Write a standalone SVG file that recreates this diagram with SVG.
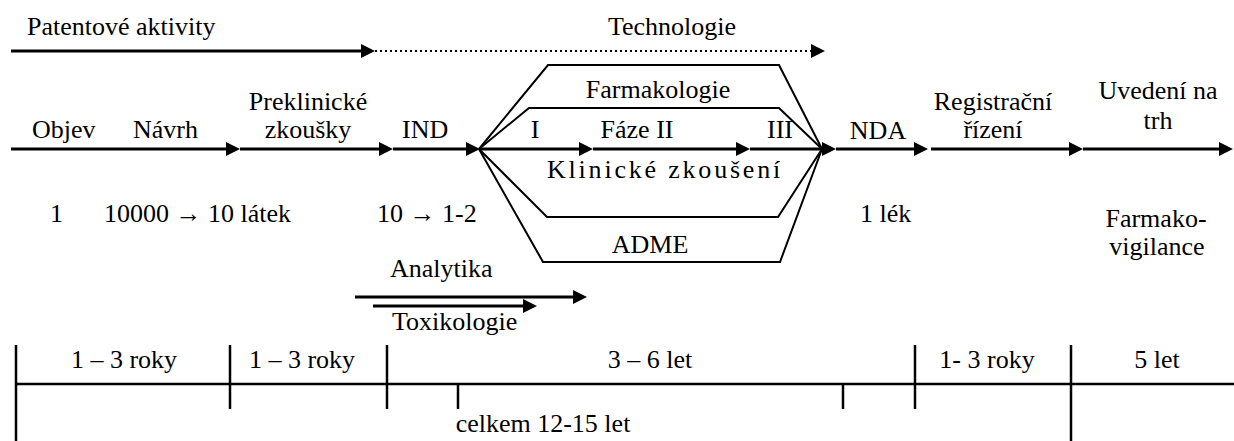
<svg xmlns="http://www.w3.org/2000/svg" width="1234" height="441" viewBox="0 0 1234 441">
<style>
svg{background:#fff}
.t{font-family:'Liberation Serif',serif;font-size:26px;fill:#000}
.m{text-anchor:middle}
.ax{stroke:#000;stroke-width:3;fill:none}
.th{stroke:#000;stroke-width:2;fill:none;stroke-linejoin:miter}
.dot{stroke:#000;stroke-width:2;stroke-dasharray:2 3;fill:none}
.tb{stroke:#000;stroke-width:2.5;fill:none}
</style>
<defs>
<marker id="ah" markerUnits="userSpaceOnUse" markerWidth="14" markerHeight="14" refX="4" refY="7" orient="auto" overflow="visible">
<path d="M0,0 L14,7 L0,14 Z" fill="#000"/>
</marker>
</defs>
<rect width="1234" height="441" fill="#fff"/>
<g id="connectors">
<line class="ax" x1="11" y1="51" x2="365" y2="51" marker-end="url(#ah)"/>
<line class="dot" x1="375" y1="51" x2="815" y2="51" marker-end="url(#ah)"/>
<line class="ax" x1="11" y1="149" x2="230" y2="149" marker-end="url(#ah)"/>
<line class="ax" x1="240" y1="149" x2="383" y2="149" marker-end="url(#ah)"/>
<line class="ax" x1="393" y1="149" x2="470" y2="149" marker-end="url(#ah)"/>
<line class="ax" x1="480" y1="149" x2="583" y2="149" marker-end="url(#ah)"/>
<line class="ax" x1="593" y1="149" x2="740" y2="149" marker-end="url(#ah)"/>
<line class="ax" x1="750" y1="149" x2="826" y2="149" marker-end="url(#ah)"/>
<line class="ax" x1="836" y1="149" x2="918" y2="149" marker-end="url(#ah)"/>
<line class="ax" x1="931" y1="149" x2="1073" y2="149" marker-end="url(#ah)"/>
<line class="ax" x1="1083" y1="149" x2="1223" y2="149" marker-end="url(#ah)"/>
<line class="ax" x1="355" y1="297" x2="577" y2="297" marker-end="url(#ah)"/>
<line class="ax" x1="373" y1="306" x2="527" y2="306" marker-end="url(#ah)"/>
</g>
<g id="clinical-branches">
<polyline class="th" points="479,149 548,65 779,65 822,149"/>
<polyline class="th" points="479,149 529,108 779,108 822,149"/>
<polyline class="th" points="479,149 547,217 778,217 822,149"/>
<polyline class="th" points="479,149 543,262 780,262 822,149"/>
</g>
<g id="texts" font-family="Liberation Serif, serif" font-size="26">
<g id="labels-top">
<text class="t" x="27" y="35">Patentové aktivity</text>
<text class="t m" x="672" y="35">Technologie</text>
</g>
<g id="node-objev"><text class="t" x="32" y="138">Objev</text></g>
<g id="node-navrh"><text class="t" x="133" y="138">Návrh</text></g>
<g id="node-preklinicke"><text class="t m" x="308" y="110">Preklinické</text><text class="t m" x="308" y="138">zkoušky</text></g>
<g id="node-ind"><text class="t" x="402" y="138">IND</text></g>
<g id="node-faze"><text class="t m" x="535" y="138">I</text><text class="t m" x="637" y="138">Fáze II</text><text class="t m" x="780" y="138">III</text></g>
<g id="node-farmakologie"><text class="t m" x="658" y="98">Farmakologie</text></g>
<g id="node-klinicke"><text class="t m" x="665" y="178" letter-spacing="2.8">Klinické zkoušení</text></g>
<g id="node-adme"><text class="t m" x="650" y="253">ADME</text></g>
<g id="node-nda"><text class="t m" x="878" y="139">NDA</text></g>
<g id="node-registrace"><text class="t m" x="993" y="110">Registrační</text><text class="t m" x="993" y="138">řízení</text></g>
<g id="node-uvedeni"><text class="t m" x="1158" y="99">Uvedení na</text><text class="t m" x="1158" y="129">trh</text></g>
<g id="counts">
<text class="t" x="50" y="222">1</text>
<text class="t" x="104" y="222">10000 → 10 látek</text>
<text class="t" x="377" y="222">10 → 1-2</text>
<text class="t" x="860" y="222">1 lék</text>
<text class="t m" x="1156" y="227">Farmako-</text>
<text class="t m" x="1157" y="255">vigilance</text>
</g>
<g id="node-analytika"><text class="t" x="390" y="277">Analytika</text></g>
<g id="node-toxikologie"><text class="t" x="392" y="330">Toxikologie</text></g>
<g id="timeline-labels">
<text class="t m" x="124" y="368">1 – 3 roky</text>
<text class="t m" x="302" y="368">1 – 3 roky</text>
<text class="t m" x="650" y="368">3 – 6 let</text>
<text class="t m" x="987" y="368">1- 3 roky</text>
<text class="t m" x="1157" y="368">5 let</text>
<text class="t m" x="543" y="432">celkem 12-15 let</text>
</g>
</g>
<g id="timeline">
<line class="tb" x1="16" y1="384" x2="1234" y2="384"/>
<line class="tb" x1="16" y1="345" x2="16" y2="441"/>
<line class="tb" x1="230" y1="345" x2="230" y2="409"/>
<line class="tb" x1="387" y1="345" x2="387" y2="409"/>
<line class="tb" x1="458" y1="384" x2="458" y2="409"/>
<line class="tb" x1="843" y1="384" x2="843" y2="409"/>
<line class="tb" x1="915" y1="345" x2="915" y2="409"/>
<line class="tb" x1="1071" y1="345" x2="1071" y2="441"/>
</g>
</svg>
